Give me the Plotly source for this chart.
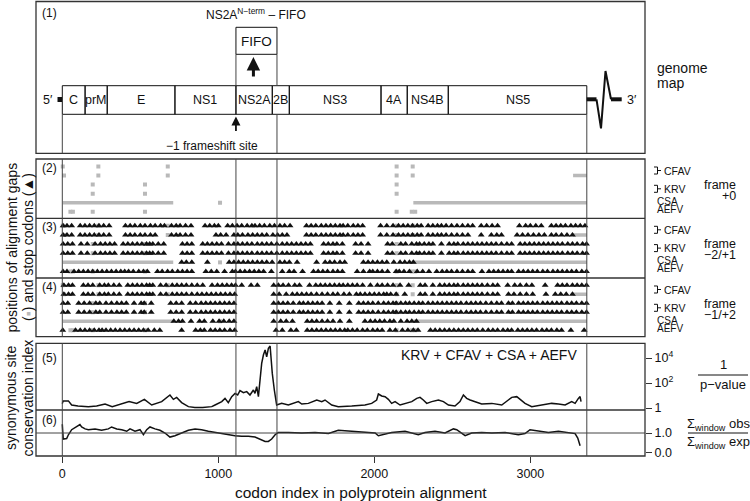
import plotly.graph_objects as go

FONT = "Liberation Sans, Arial, Helvetica, sans-serif"
GREY = "#b9b9b9"
INK = "#111111"

# plot area in pixels (750 x 501 page)
L, R, T, B = 36, 645, 1, 456
X_RANGE = [-168.6, 3735.0]

# ---- genome map (codon positions in the polyprotein alignment) ----
GENE_NAMES = ["C", "prM", "E", "NS1", "NS2A", "2B", "NS3", "4A", "NS4B", "NS5"]
GENE_STARTS = [0, 146, 288, 722, 1113, 1346, 1455, 2043, 2211, 2474]
GENE_ENDS = [146, 288, 722, 1113, 1346, 1455, 2043, 2211, 2474, 3362]
FIFO_RANGE = [1113, 1376]
FIFO_ARROW_AT = 1225
FRAMESHIFT_SITE = 1113
REF_LINES = [0, 1113, 1376, 3362]

# ---- alignment gaps (grey), one list per sequence row ----
ROW_Y = [6, 5, 4, 3, 2, 1]  # CFAV, CFAV, KRV, KRV, CSA, AEFV
GAP_CFAV_1 = [3, 231, 676, 2143, 2246]
GAP_CFAV_2 = [11, 231, 676, 2143, 2246]
GAP_KRV_1 = [195, 530, 2143]
GAP_KRV_2 = [195, 530, 2143]
GAP_CSA = [1011]
GAP_AEFV = [52, 68, 195, 530, 2143, 2240, 2262]
GAP_RUNS_CFAV_2 = [[3274, 3362]]
GAP_RUNS_CSA = [[3, 711], [2250, 3362]]

# ---- stop codons, frame -2/+1 ----
STOP_A_CFAV_1 = [5, 30, 60, 115, 145, 175, 205, 235, 265, 300, 405, 435, 465, 500, 530, 565, 595, 630, 655,
                 700, 730, 755, 790, 825, 915, 945, 975, 1000, 1060, 1090, 1120, 1150, 1185, 1215, 1235, 1265,
                 1295, 1330, 1360, 1395, 1425, 1460, 1565, 1595, 1625, 1660, 1690, 1720, 1750, 1780, 1800, 1830,
                 1865, 1895, 1925, 2040, 2080, 2120, 2155, 2185, 2215, 2245, 2275, 2300, 2345, 2375, 2405, 2430,
                 2460, 2495, 2530, 2565, 2600, 2630, 2685, 2720, 2755, 2790, 2930, 2970, 3000, 3035, 3070, 3135,
                 3165, 3195, 3225, 3260, 3290, 3320, 3350]
STOP_A_CFAV_2 = [5, 30, 60, 115, 145, 175, 205, 235, 265, 300, 405, 435, 465, 500, 530, 565, 595, 700, 730,
                 755, 790, 825, 985, 1015, 1050, 1100, 1125, 1155, 1190, 1220, 1250, 1280, 1310, 1350, 1380, 1410,
                 1440, 1565, 1595, 1625, 1660, 1690, 1720, 1750, 1780, 1800, 1830, 1865, 1895, 1925, 2040, 2080,
                 2120, 2155, 2185, 2215, 2245, 2275, 2300, 2345, 2375, 2405, 2430, 2460, 2495, 2530, 2565, 2600,
                 2685, 2750, 2785, 2815, 2915, 2950, 2985, 3020, 3055, 3090, 3135, 3165, 3200, 3235, 3270]
STOP_A_KRV = [5, 35, 65, 120, 160, 210, 245, 275, 305, 335, 390, 420, 450, 480, 510, 540, 560, 580, 615, 650,
              770, 800, 830, 900, 930, 960, 990, 1020, 1065, 1100, 1125, 1155, 1185, 1215, 1250, 1280, 1310, 1340,
              1375, 1410, 1440, 1470, 1500, 1530, 1560, 1590, 1675, 1705, 1735, 1760, 1795, 1880, 1915, 1960,
              2085, 2115, 2170, 2200, 2240, 2270, 2290, 2320, 2350, 2375, 2430, 2480, 2510, 2535, 2570, 2600,
              2630, 2660, 2690, 2720, 2750, 2780, 2815, 2850, 2880, 2935, 2965, 2995, 3025, 3055, 3085, 3115,
              3145, 3175, 3205, 3240, 3270, 3300, 3335, 3360]
STOP_A_CSA = [765, 795, 830, 930, 1070, 1100, 1130, 1160, 1190, 1220, 1250, 1280, 1310, 1345, 1395, 1425, 1455,
              1505, 1630, 1685, 1715, 1745, 1780, 1810, 1930, 1960, 1990, 2020, 2050, 2080, 2125, 2165, 2195,
              2225, 2250]
STOP_A_AEFV = [5, 30, 75, 105, 135, 165, 195, 225, 255, 285, 315, 345, 375, 400, 425, 455, 490, 520, 545, 610,
               640, 675, 705, 740, 770, 800, 830, 920, 955, 990, 1040, 1090, 1110, 1140, 1170, 1200, 1230, 1260,
               1290, 1340, 1410, 1455, 1485, 1540, 1610, 1640, 1670, 1700, 1735, 1765, 1795, 1890, 1930, 1970,
               1990, 2020, 2050, 2085, 2140, 2160, 2190, 2225, 2275, 2310, 2350, 2400, 2435, 2465, 2495, 2530,
               2565, 2600, 2630, 2690, 2735, 2765, 2795, 2825, 2855, 2880, 2925, 2955, 2985, 3015, 3045, 3080,
               3110, 3145, 3175, 3205, 3235, 3265, 3295, 3330, 3360]

# ---- stop codons, frame -1/+2 ----
STOP_B_CFAV_1 = [10, 40, 65, 135, 165, 195, 240, 270, 295, 330, 365, 420, 450, 480, 510, 540, 560, 580, 630,
                 665, 705, 735, 765, 795, 830, 865, 900, 960, 995, 1025, 1055, 1085, 1110, 1150, 1210, 1250, 1355,
                 1385, 1415, 1450, 1490, 1520, 1585, 1625, 1655, 1685, 1715, 1745, 1775, 1800, 1830, 1860, 1890,
                 1925, 1975, 2020, 2050, 2085, 2120, 2165, 2220, 2295, 2325, 2375, 2420, 2450, 2480, 2510, 2535,
                 2570, 2600, 2630, 2660, 2690, 2725, 2760, 2790, 2855, 2900, 2935, 2975, 3010, 3095, 3175, 3205,
                 3235, 3270, 3300, 3330, 3360]
STOP_B_CFAV_2 = [10, 40, 65, 135, 165, 195, 240, 270, 295, 330, 365, 420, 450, 480, 510, 540, 560, 580, 630,
                 665, 705, 735, 765, 795, 830, 865, 895, 925, 955, 985, 1015, 1045, 1075, 1105, 1355, 1390, 1435,
                 1475, 1505, 1535, 1565, 1595, 1630, 1665, 1700, 1735, 1765, 1805, 1840, 1885, 1910, 1940, 1970,
                 2000, 2030, 2060, 2080, 2105, 2140, 2195, 2295, 2325, 2375, 2420, 2450, 2480, 2510, 2535, 2570,
                 2600, 2630, 2660, 2690, 2725, 2760, 2790, 2860, 2895, 2935, 2975, 3015, 3100, 3160, 3195, 3230,
                 3270]
STOP_B_KRV = [5, 35, 105, 140, 175, 215, 240, 280, 315, 350, 380, 410, 460, 505, 525, 570, 695, 730, 765, 820,
              855, 890, 920, 950, 980, 1010, 1040, 1070, 1100, 1355, 1385, 1415, 1445, 1480, 1520, 1545, 1575,
              1605, 1635, 1665, 1715, 1775, 1840, 1900, 1930, 1960, 1990, 2025, 2060, 2090, 2120, 2140, 2170,
              2200, 2225, 2255, 2285, 2310, 2345, 2375, 2405, 2435, 2465, 2495, 2525, 2555, 2590, 2620, 2650,
              2680, 2715, 2750, 2785, 2815, 2860, 2885, 2925, 2955, 2985, 3015, 3045, 3080, 3110, 3140, 3170,
              3200, 3235, 3265, 3295, 3330, 3360]
STOP_B_CSA = [715, 745, 770, 825, 880, 910, 965, 1005, 1035, 1070, 1100, 1355, 1400, 1435, 1475, 1570, 1600,
              1630, 1665, 1700, 1735, 1780, 1840, 1940, 1975, 2005, 2035, 2065, 2100, 2125, 2170, 2210, 2240, 2270]
STOP_B_AEFV = [3, 85, 115, 145, 175, 205, 235, 255, 280, 310, 340, 370, 400, 430, 460, 490, 520, 550, 590, 625,
               765, 855, 885, 910, 950, 980, 1010, 1040, 1075, 1105, 1370, 1410, 1465, 1500, 1570, 1600, 1630,
               1660, 1690, 1720, 1750, 1780, 1810, 1830, 1860, 1890, 1925, 1955, 1990, 2020, 2050, 2100, 2135,
               2180, 2215, 2250, 2280, 2360, 2390, 2420, 2450, 2480, 2510, 2540, 2570, 2600, 2630, 2660, 2695,
               2730, 2760, 2790, 2825, 2855, 2880, 2920, 2950, 2980, 3010, 3040, 3075, 3105, 3135, 3170, 3200,
               3260, 3345]

# ---- panel 5: synonymous site conservation, log10(1/p-value) ----
SCI_CODON = [0, 6, 39, 60, 100, 167, 220, 274, 320, 391, 428, 477, 526, 573, 637, 690, 712, 733, 765, 808,
             850, 900, 958, 979, 1022, 1043, 1064, 1086, 1107, 1124, 1139, 1161, 1182, 1203, 1225, 1235, 1246,
             1257, 1267, 1278, 1289, 1300, 1310, 1321, 1332, 1338, 1346, 1359, 1374, 1406, 1449, 1513, 1535,
             1577, 1631, 1663, 1684, 1727, 1769, 1855, 1940, 1983, 2015, 2026, 2047, 2069, 2090, 2111, 2133,
             2165, 2197, 2240, 2272, 2293, 2314, 2336, 2368, 2411, 2443, 2475, 2517, 2549, 2571, 2592, 2614,
             2646, 2688, 2753, 2817, 2859, 2881, 2913, 2945, 2966, 3009, 3073, 3137, 3180, 3223, 3265, 3287,
             3308, 3319, 3325]
SCI_LOG10 = [0.35, 0.57, 0.57, 0.24, 0.16, 0.11, 0.16, 0.32, 0.11, 0.37, 0.51, 0.37, 0.69, 0.24, 0.51, 1.04,
             0.69, 0.85, 0.43, 0.11, 0.05, 0.05, 0.11, 0.24, 0.51, 0.77, 0.43, 0.91, 1.17, 1.04, 1.39, 1.23,
             1.31, 1.04, 1.44, 1.17, 1.71, 0.91, 2.24, 3.57, 4.24, 4.64, 4.1, 4.77, 4.96, 3.84, 2.77, 1.44,
             0.24, 0.37, 0.24, 0.51, 0.32, 0.37, 0.64, 0.51, 0.64, 0.24, 0.11, 0.16, 0.24, 0.37, 0.64, 1.12,
             0.96, 0.91, 0.69, 0.37, 0.51, 0.24, 0.37, 0.51, 0.77, 0.85, 0.64, 0.37, 0.51, 0.64, 0.51, 0.24,
             0.16, 0.51, 1.04, 0.77, 0.64, 0.51, 0.32, 0.37, 0.24, 0.64, 0.85, 0.91, 0.57, 0.37, 0.11, 0.24,
             0.37, 0.32, 0.24, 0.51, 0.37, 0.77, 0.91, 0.51]

# ---- panel 6: sum(obs) / sum(exp) in the window ----
RATIO_CODON = [0, 6, 28, 39, 60, 92, 113, 124, 146, 167, 210, 252, 295, 316, 349, 381, 413, 434, 466, 498, 520,
               541, 562, 594, 626, 658, 690, 722, 765, 808, 851, 893, 936, 979, 1022, 1064, 1107, 1150, 1193,
               1235, 1267, 1300, 1321, 1342, 1364, 1385, 1449, 1535, 1620, 1706, 1769, 1855, 1940, 2005, 2026,
               2058, 2111, 2197, 2250, 2282, 2325, 2389, 2453, 2507, 2528, 2560, 2582, 2624, 2688, 2753, 2838,
               2923, 2966, 2998, 3052, 3116, 3180, 3244, 3287, 3304, 3312, 3319]
RATIO_VALUE = [1.45, 0.69, 0.72, 0.91, 1.17, 1.31, 1.43, 1.31, 1.21, 1.17, 1.21, 1.14, 1.21, 1.31, 1.21, 1.17,
               1.09, 1.21, 1.09, 1.17, 0.91, 1.17, 1.31, 1.21, 1.14, 1.0, 0.79, 0.86, 1.0, 1.14, 1.21, 1.17,
               1.09, 1.03, 0.97, 0.91, 0.86, 0.83, 0.83, 0.79, 0.69, 0.57, 0.57, 0.69, 0.91, 1.03, 1.03, 1.0,
               1.03, 0.97, 1.14, 1.09, 1.03, 1.0, 0.86, 0.91, 1.03, 1.09, 0.97, 0.91, 1.03, 1.09, 1.0, 1.21,
               1.17, 1.0, 0.86, 1.0, 1.03, 1.0, 1.03, 0.91, 0.97, 1.17, 1.09, 1.03, 1.09, 1.0, 0.97, 0.74, 0.57,
               0.35]


def py(px):
    return (B - px) / (B - T)


def pxx(px):
    return (px - L) / (R - L)


fig = go.Figure()

gap_points = [GAP_CFAV_1, GAP_CFAV_2, GAP_KRV_1, GAP_KRV_2, GAP_CSA, GAP_AEFV]
gap_runs = [[], GAP_RUNS_CFAV_2, [], [], GAP_RUNS_CSA, []]
stops = {
    "y4": [STOP_A_CFAV_1, STOP_A_CFAV_2, STOP_A_KRV, STOP_A_KRV, STOP_A_CSA, STOP_A_AEFV],
    "y3": [STOP_B_CFAV_1, STOP_B_CFAV_2, STOP_B_KRV, STOP_B_KRV, STOP_B_CSA, STOP_B_AEFV],
}

for axis in ["y5", "y4", "y3"]:
    rx, ry = [], []
    for runs, row in zip(gap_runs, ROW_Y):
        for start, end in runs:
            rx += [start, end, None]
            ry += [row, row, None]
    fig.add_trace(go.Scatter(x=rx, y=ry, yaxis=axis, mode="lines",
                             line={"color": GREY, "width": 3.5}, hoverinfo="skip"))
    gx, gy = [], []
    for pts, row in zip(gap_points, ROW_Y):
        gx += pts
        gy += [row] * len(pts)
    fig.add_trace(go.Scatter(x=gx, y=gy, yaxis=axis, mode="markers",
                             marker={"symbol": "square", "size": 4, "color": GREY}, hoverinfo="skip"))
    if axis in stops:
        sx, sy = [], []
        for pts, row in zip(stops[axis], ROW_Y):
            sx += pts
            sy += [row] * len(pts)
        fig.add_trace(go.Scatter(x=sx, y=sy, yaxis=axis, mode="markers",
                                 marker={"symbol": "triangle-up", "size": 6, "color": INK,
                                         "line": {"width": 0}}, hoverinfo="skip"))

fig.add_trace(go.Scatter(x=SCI_CODON, y=SCI_LOG10, yaxis="y2", mode="lines",
                         line={"color": INK, "width": 1.5}))
fig.add_trace(go.Scatter(x=RATIO_CODON, y=RATIO_VALUE, yaxis="y", mode="lines",
                         line={"color": INK, "width": 1.5}))

shapes = []
frame_line = {"color": "#333333", "width": 1.3}
thin = {"color": "#444444", "width": 1}

# panel frames
for top, bottom in [(1.5, 153.3), (159, 336.7), (343.3, 456)]:
    shapes.append(dict(type="rect", xref="paper", yref="paper", x0=0, x1=1,
                       y0=py(bottom), y1=py(top), line=frame_line))
for yline in [218.3, 278, 410]:
    shapes.append(dict(type="line", xref="paper", yref="paper", x0=0, x1=1,
                       y0=py(yline), y1=py(yline), line=frame_line))
shapes.append(dict(type="line", xref="paper", yref="y", x0=0, x1=1, y0=1, y1=1, line=thin))

# reference verticals through panels 2-6
for pos in REF_LINES:
    for top, bottom in [(159, 336.7), (343.3, 456)]:
        shapes.append(dict(type="line", xref="x", yref="paper", x0=pos, x1=pos,
                           y0=py(bottom), y1=py(top), line=thin))

# genome map
for start, end in zip(GENE_STARTS, GENE_ENDS):
    shapes.append(dict(type="rect", xref="x", yref="paper", x0=start, x1=end,
                       y0=py(114.3), y1=py(85.7), line={"color": INK, "width": 1}))
shapes.append(dict(type="rect", xref="x", yref="paper", x0=FIFO_RANGE[0], x1=FIFO_RANGE[1],
                   y0=py(54.3), y1=py(27.3), line={"color": INK, "width": 1}))
for pos in FIFO_RANGE:
    shapes.append(dict(type="line", xref="x", yref="paper", x0=pos, x1=pos,
                       y0=py(85.7), y1=py(54.3), line=thin))
for pos in [REF_LINES[0], REF_LINES[2], REF_LINES[3]]:
    shapes.append(dict(type="line", xref="x", yref="paper", x0=pos, x1=pos,
                       y0=py(153.3), y1=py(114.3), line=thin))
# 5' stub and 3' zigzag
shapes.append(dict(type="rect", xref="paper", yref="paper", x0=pxx(57.5), x1=pxx(62),
                   y0=py(102), y1=py(97), fillcolor=INK, line={"width": 0}))
for x0, x1 in [(586.7, 596.5), (611, 621.7)]:
    shapes.append(dict(type="line", xref="paper", yref="paper", x0=pxx(x0), x1=pxx(x1),
                       y0=py(99.3), y1=py(99.3), line={"color": INK, "width": 4}))
zig = [(596.5, 99.3), (601, 128.3), (605.5, 71), (611, 99.3)]
path = "M " + " L ".join(f"{pxx(a):.5f},{py(b):.5f}" for a, b in zig)
shapes.append(dict(type="path", xref="paper", yref="paper", path=path, line={"color": INK, "width": 2}))

annotations = []


def text(x, y, s, size=12, xanchor="center", xref="paper", angle=0, color=INK):
    annotations.append(dict(x=x, y=y, xref=xref, yref="paper", text=s, showarrow=False,
                            xanchor=xanchor, yanchor="middle", textangle=angle,
                            font={"size": size, "color": color, "family": FONT}))


for name, start, end in zip(GENE_NAMES, GENE_STARTS, GENE_ENDS):
    text((start + end) / 2, py(100), name, size=12.5, xref="x")
text(sum(FIFO_RANGE) / 2, py(41), "FIFO", size=13.5, xref="x")
text(sum(FIFO_RANGE) / 2, py(14), "NS2A<sup>N\u2212term</sup> \u2013 FIFO", size=12, xref="x")
text(pxx(212), py(146), "\u22121 frameshift site", size=12)
text(pxx(40), py(13), "(1)", size=12, xanchor="left")
text(pxx(48), py(100), "5\u2032", size=12.5)
text(pxx(632), py(100), "3\u2032", size=12.5)
text(pxx(655), py(68), "genome", size=14, xanchor="left")
text(pxx(655), py(83), "map", size=14, xanchor="left")

annotations.append(dict(x=FIFO_ARROW_AT, y=py(57), xref="x", yref="paper", text="", showarrow=True,
                        ax=0, ay=21, arrowhead=2, arrowsize=0.9, arrowwidth=3, arrowcolor=INK))
annotations.append(dict(x=FRAMESHIFT_SITE, y=py(116.5), xref="x", yref="paper", text="", showarrow=True,
                        ax=0, ay=16, arrowhead=2, arrowsize=1, arrowwidth=1.8, arrowcolor=INK))

# panels 2-4 labels
for num, top, frame_a, frame_b in [("(2)", 159, "frame", "+0"), ("(3)", 218.3, "frame", "\u22122/+1"),
                                   ("(4)", 278, "frame", "\u22121/+2")]:
    text(pxx(40), py(top + 9), num, size=12, xanchor="left")
    mid = top + 29.6
    text(pxx(738), py(mid - 4), frame_a, size=12.5, xanchor="right")
    text(pxx(738), py(mid + 7.5), frame_b, size=12.5, xanchor="right")
    for name, off in [("CFAV", 11.5), ("KRV", 29.8)]:
        yc = top + off
        shapes.append(dict(type="path", xref="paper", yref="paper",
                           path=(f"M {pxx(654):.5f},{py(yc - 3.5):.5f} L {pxx(657.5):.5f},{py(yc - 3.5):.5f} "
                                 f"L {pxx(657.5):.5f},{py(yc + 3.5):.5f} L {pxx(654):.5f},{py(yc + 3.5):.5f} "
                                 f"M {pxx(657.5):.5f},{py(yc):.5f} L {pxx(661):.5f},{py(yc):.5f}"),
                           line={"color": INK, "width": 1}))
        text(pxx(662), py(yc), name, size=10.5, xanchor="left")
    text(pxx(654.5), py(top + 42.3), "CSA", size=10, xanchor="left")
    text(pxx(654.5), py(top + 50.5), "AEFV", size=10, xanchor="left")

text(pxx(40), py(358), "(5)", size=12, xanchor="left")
text(pxx(40), py(420), "(6)", size=12, xanchor="left")
text(pxx(579), py(355), "KRV + CFAV + CSA + AEFV", size=14, xanchor="right")

# right-hand fractions
text(pxx(723), py(364.5), "1", size=13)
text(pxx(723), py(384), "p\u2212value", size=13)
shapes.append(dict(type="line", xref="paper", yref="paper", x0=pxx(698), x1=pxx(748),
                   y0=py(375), y1=py(375), line={"color": INK, "width": 1}))
text(pxx(718), py(424), "\u03a3<sub>window</sub> obs", size=13)
text(pxx(718), py(442), "\u03a3<sub>window</sub> exp", size=13)
shapes.append(dict(type="line", xref="paper", yref="paper", x0=pxx(688), x1=pxx(748),
                   y0=py(433), y1=py(433), line={"color": INK, "width": 1}))

# left titles
text(pxx(11), py(247.5), "positions of alignment gaps", size=14, angle=-90)
text(pxx(27.5), py(247.5), f"(<span style='color:{GREY}'>\u25aa</span>) and stop codons (\u25b2)", size=14,
     angle=-90)
text(pxx(11), py(398), "synonymous site", size=14, angle=-90)
text(pxx(27.5), py(398), "conservation index", size=14, angle=-90)
text(pxx(361), py(493), "codon index in polyprotein alignment", size=15.5)

hidden = dict(visible=False, fixedrange=True)
fig.update_layout(
    width=750,
    height=501,
    margin={"l": L, "r": 750 - R, "t": T, "b": 501 - B},
    paper_bgcolor="white",
    plot_bgcolor="white",
    showlegend=False,
    font={"family": FONT, "color": INK, "size": 12},
    xaxis=dict(domain=[0, 1], range=X_RANGE, anchor="y", tickvals=[0, 1000, 2000, 3000],
               ticks="outside", ticklen=6, tickcolor="#333", showgrid=False, zeroline=False,
               showline=False, tickfont={"size": 12.5}),
    yaxis=dict(domain=[0, py(410)], range=[-0.18, 2.18], anchor="x", side="right",
               tickvals=[0, 1], ticktext=["0.0", "1.0"], ticks="outside", ticklen=6, tickcolor="#333",
               showgrid=False, zeroline=False, tickfont={"size": 12.5}),
    yaxis2=dict(domain=[py(410), py(343.3)], range=[-0.16, 5.18], anchor="x", side="right",
                tickvals=[0, 2, 4], ticktext=["1", "10<sup>2</sup>", "10<sup>4</sup>"], ticks="outside",
                ticklen=6, tickcolor="#333", showgrid=False, zeroline=False, tickfont={"size": 12.5}),
    yaxis3=dict(domain=[py(336.7), py(278)], range=[0.29, 6.82], anchor="x", **hidden),
    yaxis4=dict(domain=[py(278), py(218.3)], range=[0.29, 6.82], anchor="x", **hidden),
    yaxis5=dict(domain=[py(218.3), py(159)], range=[0.29, 6.82], anchor="x", **hidden),
    shapes=shapes,
    annotations=annotations,
)

fig.write_html("out.html", config={"displayModeBar": False},
               post_script="document.body.style.margin = '0px';")
